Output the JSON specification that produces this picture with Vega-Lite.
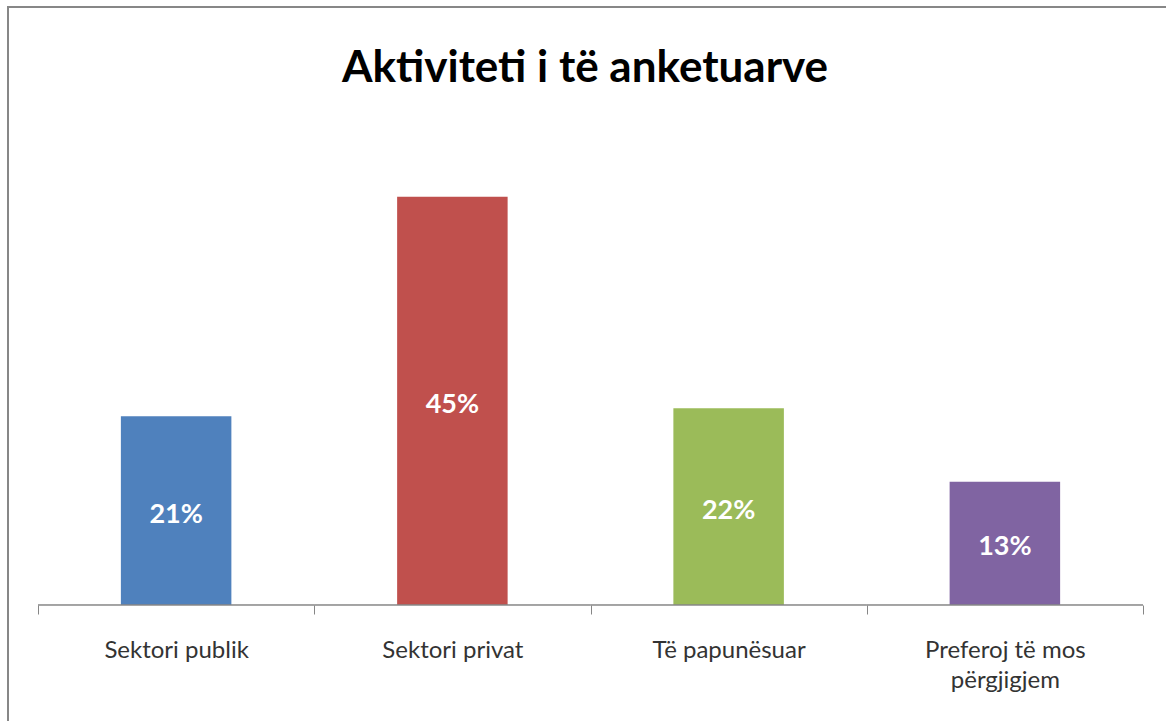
{
  "$schema": "https://vega.github.io/schema/vega-lite/v6.json",
  "width": 1160,
  "height": 716,
  "autosize": {"type": "none"},
  "padding": {"left": 8, "top": 7, "right": -2, "bottom": -2},
  "background": "white",
  "config": {"view": {"stroke": "#878787", "strokeWidth": 2}, "font": "Lato"},
  "title": {
    "text": "Aktiviteti i të anketuarve",
    "font": "Lato",
    "fontSize": 44,
    "fontWeight": "bold",
    "color": "#000000",
    "anchor": "middle",
    "frame": "group",
    "offset": -77,
    "baseline": "alphabetic",
    "dx": -3,
    "dy": 42
  },
  "data": {
    "values": [
      {"category": "Sektori publik", "share": 20.8, "label": "21%"},
      {"category": "Sektori privat", "share": 45.0, "label": "45%"},
      {"category": "Të papunësuar", "share": 21.7, "label": "22%"},
      {"category": "Preferoj të mos përgjigjem", "share": 13.6, "label": "13%"}
    ]
  },
  "encoding": {
    "x": {
      "field": "category",
      "type": "nominal",
      "sort": null,
      "scale": {"paddingInner": 0, "paddingOuter": 0.09955, "align": 0.5455},
      "axis": {
        "title": null,
        "orient": "bottom",
        "offset": -118,
        "domain": false,
        "grid": false,
        "ticks": true,
        "tickBand": "extent",
        "tickSize": 9,
        "tickColor": "#868686",
        "tickWidth": 1,
        "labelAngle": 0,
        "labelFont": "Lato",
        "labelFontSize": 24,
        "labelColor": "#333333",
        "labelPadding": 24,
        "labelLineHeight": 30,
        "labelLimit": 0,
        "labelExpr": "datum.value == 'Preferoj të mos përgjigjem' ? ['Preferoj të mos', 'përgjigjem'] : datum.value"
      }
    }
  },
  "layer": [
    {
      "mark": {"type": "bar", "width": {"band": 0.4}},
      "encoding": {
        "y": {
          "field": "share",
          "type": "quantitative",
          "scale": {"domain": [-13.01, 65.932], "nice": false, "zero": false},
          "axis": null
        },
        "y2": {"datum": 0},
        "color": {
          "field": "category",
          "type": "nominal",
          "sort": null,
          "scale": {
            "domain": ["Sektori publik", "Sektori privat", "Të papunësuar", "Preferoj të mos përgjigjem"],
            "range": ["#4F81BD", "#C0504D", "#9BBB59", "#8064A2"]
          },
          "legend": null
        }
      }
    },
    {
      "mark": {"type": "bar", "width": {"band": 1}, "fill": null, "stroke": "#868686", "strokeWidth": 1},
      "encoding": {
        "y": {"datum": 0, "type": "quantitative"},
        "y2": {"datum": 0}
      }
    },
    {
      "transform": [{"calculate": "datum.share / 2", "as": "labelMid"}],
      "mark": {"type": "text", "fontWeight": "bold", "fontSize": 27, "color": "white", "baseline": "middle", "align": "center", "font": "Lato", "dy": 4},
      "encoding": {
        "y": {"field": "labelMid", "type": "quantitative"},
        "text": {"field": "label"}
      }
    }
  ]
}
